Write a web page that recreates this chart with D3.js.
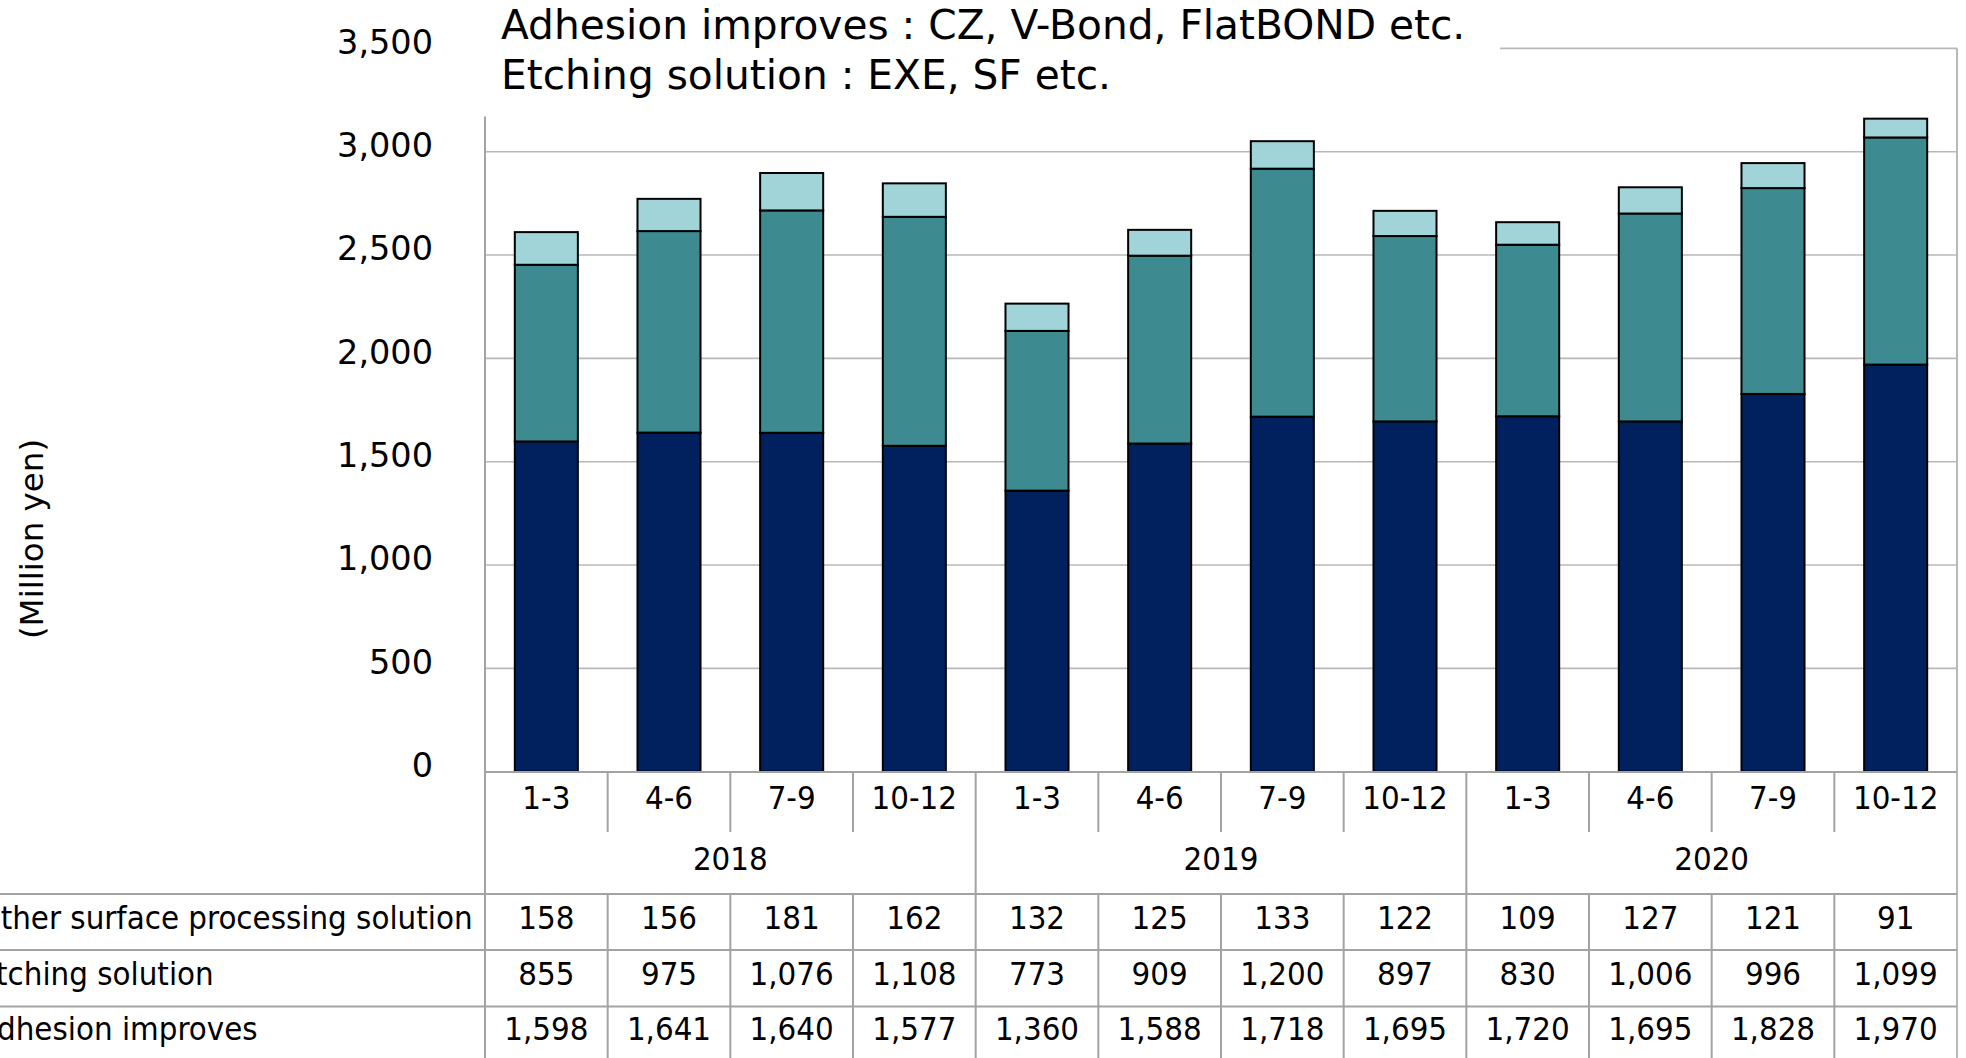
<!DOCTYPE html>
<html>
<head>
<meta charset="utf-8">
<script src="https://cdn.jsdelivr.net/npm/d3@7"></script>
<style>
  html, body { margin: 0; padding: 0; background: #ffffff; }
  svg { display: block; }
</style>
</head>
<body>
<svg id="chart" width="1966" height="1058"></svg>
<script>
// Quarterly sales of surface processing chemicals, million yen
const years = ["2018", "2019", "2020"];
const quarters = ["1-3", "4-6", "7-9", "10-12"];
const adhesionImproves = [1598, 1641, 1640, 1577, 1360, 1588, 1718, 1695, 1720, 1695, 1828, 1970];
const etchingSolution = [855, 975, 1076, 1108, 773, 909, 1200, 897, 830, 1006, 996, 1099];
const otherSolution = [158, 156, 181, 162, 132, 125, 133, 122, 109, 127, 121, 91];
const seriesKeys = ["adhesion", "etching", "other"];
const seriesLabels = ["Adhesion improves", "Etching solution", "Other surface processing solution"];
const seriesColors = ["#00205e", "#3d8b91", "#a1d4d8"];
const yTicks = [0, 500, 1000, 1500, 2000, 2500, 3000, 3500];
const titleLines = ["Adhesion improves : CZ, V-Bond, FlatBOND etc.", "Etching solution : EXE, SF etc."];
const yTitle = "(Million yen)";

const periods = years.flatMap(y => quarters.map(q => ({ year: y, quarter: q, key: y + " " + q })));
const rows = periods.map((p, i) => ({
  key: p.key,
  adhesion: adhesionImproves[i],
  etching: etchingSolution[i],
  other: otherSolution[i]
}));

// table rows listed top to bottom
const tableRows = [
  { label: seriesLabels[2], values: otherSolution },
  { label: seriesLabels[1], values: etchingSolution },
  { label: seriesLabels[0], values: adhesionImproves }
];

const W = 1966, H = 1058;
const plotLeft = 485, plotRight = 1957;
const plotBottom = 771.7, plotTop = 48.4;
const gridColor = "#b8b8b8";
const lineColor = "#a3a3a3";
const fontWide = "'DejaVu Sans', Verdana, sans-serif";
const fontNarrow = "'DejaVu Sans Condensed', 'DejaVu Sans', sans-serif";

const svg = d3.select("#chart");

const x = d3.scaleBand()
  .domain(rows.map(d => d.key))
  .range([plotLeft, plotRight])
  .paddingInner(0.486)
  .paddingOuter(0.243);

const y = d3.scaleLinear().domain([0, 3500]).range([plotBottom, plotTop]);

// horizontal gridlines
svg.append("g").selectAll("line")
  .data(yTicks.filter(t => t > 0 && t < 3500))
  .join("line")
  .attr("x1", plotLeft).attr("x2", plotRight)
  .attr("y1", d => y(d)).attr("y2", d => y(d))
  .attr("stroke", gridColor).attr("stroke-width", 1.6);

// plot frame: top and right
svg.append("line")
  .attr("x1", plotLeft).attr("x2", plotRight)
  .attr("y1", y(3500)).attr("y2", y(3500))
  .attr("stroke", gridColor).attr("stroke-width", 1.6);
svg.append("line")
  .attr("x1", plotRight).attr("x2", plotRight)
  .attr("y1", y(3500)).attr("y2", H)
  .attr("stroke", gridColor).attr("stroke-width", 2);

// stacked bars
const stacked = d3.stack().keys(seriesKeys)(rows);
svg.append("g").selectAll("g")
  .data(stacked)
  .join("g")
  .attr("fill", (d, i) => seriesColors[i])
  .selectAll("rect")
  .data(d => d)
  .join("rect")
  .attr("x", d => x(d.data.key))
  .attr("width", x.bandwidth())
  .attr("y", d => y(d[1]))
  .attr("height", d => y(d[0]) - y(d[1]))
  .attr("stroke", "#000000")
  .attr("stroke-width", 2);

// white box behind the title
svg.append("rect")
  .attr("x", 440).attr("y", 0)
  .attr("width", 1500 - 440).attr("height", 116.6)
  .attr("fill", "#ffffff");

// y axis labels
const yAxis = d3.axisLeft(y)
  .tickValues(yTicks)
  .tickFormat(d3.format(","))
  .tickSize(0)
  .tickPadding(52);
const yAxisG = svg.append("g")
  .attr("transform", `translate(${plotLeft},0)`)
  .call(yAxis);
yAxisG.select(".domain").remove();
yAxisG.selectAll("text")
  .attr("dy", "0.14em")
  .attr("fill", "#000000")
  .style("font-family", fontWide)
  .style("font-size", "33.5px");

// left axis line
svg.append("line")
  .attr("x1", plotLeft).attr("x2", plotLeft)
  .attr("y1", 116.6).attr("y2", H)
  .attr("stroke", lineColor).attr("stroke-width", 2);

// y axis title
svg.append("text")
  .attr("transform", "translate(43,539) rotate(-90)")
  .attr("text-anchor", "middle")
  .style("font-family", fontWide)
  .style("font-size", "32.5px")
  .text(yTitle);

// title lines
svg.append("g").selectAll("text")
  .data(titleLines)
  .join("text")
  .attr("x", 501)
  .attr("y", (d, i) => 39 + i * 49.5)
  .style("font-family", fontWide)
  .style("font-size", "40.7px")
  .text(d => d);

// data table grid
const step = x.step();
const rowY = { axis: 772, catBottom: 832, yearBottom: 894, r1: 950, r2: 1006.5 };
const grid = svg.append("g").attr("stroke", lineColor).attr("stroke-width", 2);

grid.append("line")
  .attr("x1", plotLeft).attr("x2", plotRight)
  .attr("y1", rowY.axis).attr("y2", rowY.axis);
[rowY.yearBottom, rowY.r1, rowY.r2].forEach(yy => {
  grid.append("line").attr("x1", 0).attr("x2", plotRight).attr("y1", yy).attr("y2", yy);
});

d3.range(1, periods.length).forEach(i => {
  const xx = plotLeft + i * step;
  if (i % quarters.length === 0) {
    grid.append("line").attr("x1", xx).attr("x2", xx).attr("y1", rowY.axis).attr("y2", H);
  } else {
    grid.append("line").attr("x1", xx).attr("x2", xx).attr("y1", rowY.axis).attr("y2", rowY.catBottom);
    grid.append("line").attr("x1", xx).attr("x2", xx).attr("y1", rowY.yearBottom).attr("y2", H);
  }
});

const cx = key => x(key) + x.bandwidth() / 2;

// quarter labels
svg.append("g").selectAll("text")
  .data(periods)
  .join("text")
  .attr("x", d => cx(d.key))
  .attr("y", 808.6)
  .attr("text-anchor", "middle")
  .style("font-family", fontNarrow)
  .style("font-size", "32.7px")
  .text(d => d.quarter);

// year labels
svg.append("g").selectAll("text")
  .data(years)
  .join("text")
  .attr("x", (d, i) => plotLeft + (i * quarters.length + quarters.length / 2) * step)
  .attr("y", 870.2)
  .attr("text-anchor", "middle")
  .style("font-family", fontNarrow)
  .style("font-size", "32.7px")
  .text(d => d);

// table values and row headers (headers run off the left edge)
const rowBaselines = [928.6, 985.2, 1040.2];
const fmt = d3.format(",");
tableRows.forEach((r, ri) => {
  const g = svg.append("g")
    .style("font-family", fontNarrow)
    .style("font-size", "32.7px");
  g.append("text")
    .attr("x", -22.5)
    .attr("y", rowBaselines[ri])
    .text(r.label);
  g.selectAll("text.v")
    .data(r.values)
    .join("text")
    .attr("class", "v")
    .attr("x", (d, i) => cx(periods[i].key))
    .attr("y", rowBaselines[ri])
    .attr("text-anchor", "middle")
    .text(d => fmt(d));
});
</script>
</body>
</html>
